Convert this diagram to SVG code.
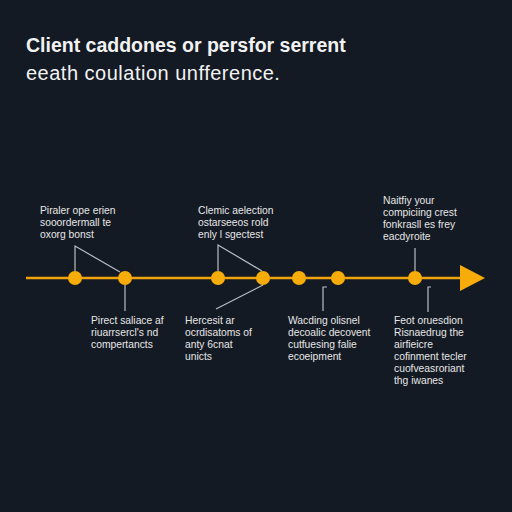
<svg xmlns="http://www.w3.org/2000/svg" width="512" height="512" viewBox="0 0 512 512">
<style>
.t{font-family:"Liberation Sans",Arial,sans-serif;fill:#f2f2f2}
.lbl{font-family:"Liberation Sans",Arial,sans-serif;font-size:10.3px;fill:#e6e6e6}
.c{stroke:#b9bcc2;stroke-width:1.2;fill:none}
.dot{fill:#f7ac0a}
</style>
<rect width="512" height="512" fill="#141a24"/>
<text class="t" x="26" y="52" font-size="19.5" font-weight="bold">Client caddones or persfor serrent</text>
<text class="t" x="26" y="80" font-size="20" letter-spacing="0.5">eeath coulation unfference.</text>
<g id="connectors">
<line x1="26" y1="278" x2="464" y2="278" stroke="#f0a30a" stroke-width="2.5"/>
<polygon points="460,265 485,278 460,291" fill="#f7ac0a"/>
<path class="c" d="M75,271 V246 L120,272"/>
<path class="c" d="M125,285 V311"/>
<path class="c" d="M218,271 V245 L262,271"/>
<path class="c" d="M263,285 L216,309"/>
<path class="c" d="M323,311 V287 H327"/>
<path class="c" d="M428,312 V287 H431"/>
<path class="c" d="M415,271 V248"/>
</g>
<g id="n1"><circle class="dot" cx="75" cy="278" r="7"/>
<text class="lbl" x="40" y="214">Piraler ope erien</text><text class="lbl" x="40" y="226">sooordermall te</text><text class="lbl" x="40" y="238">oxorg bonst</text></g>
<g id="n2"><circle class="dot" cx="125" cy="278" r="7"/>
<text class="lbl" x="91" y="324">Pirect saliace af</text><text class="lbl" x="91" y="336">riuarrsercl's nd</text><text class="lbl" x="91" y="348">compertancts</text></g>
<g id="n3"><circle class="dot" cx="218" cy="278" r="7"/>
<text class="lbl" x="198" y="214">Clemic aelection</text><text class="lbl" x="198" y="226">ostarseeos rold</text><text class="lbl" x="198" y="238">enly l sgectest</text></g>
<g id="n4"><circle class="dot" cx="263" cy="278" r="7"/>
<text class="lbl" x="185" y="324">Hercesit ar</text><text class="lbl" x="185" y="336">ocrdisatoms of</text><text class="lbl" x="185" y="348">anty 6cnat</text><text class="lbl" x="185" y="360">unicts</text></g>
<g id="n5"><circle class="dot" cx="299" cy="278" r="7"/></g>
<g id="n6"><circle class="dot" cx="338" cy="278" r="7"/>
<text class="lbl" x="288" y="324">Wacding olisnel</text><text class="lbl" x="288" y="336">decoalic decovent</text><text class="lbl" x="288" y="348">cutfuesing falie</text><text class="lbl" x="288" y="360">ecoeipment</text></g>
<g id="n7"><circle class="dot" cx="415" cy="278" r="7"/>
<text class="lbl" x="383" y="204">Naitfiy your</text><text class="lbl" x="383" y="216">compiciing crest</text><text class="lbl" x="383" y="228">fonkrasll es frey</text><text class="lbl" x="383" y="240">eacdyroite</text></g>
<g id="n8">
<text class="lbl" x="394" y="324">Feot oruesdion</text><text class="lbl" x="394" y="336">Risnaedrug the</text><text class="lbl" x="394" y="348">airfieicre</text><text class="lbl" x="394" y="360">cofinment tecler</text><text class="lbl" x="394" y="372">cuofveasroriant</text><text class="lbl" x="394" y="384">thg iwanes</text></g>
</svg>
